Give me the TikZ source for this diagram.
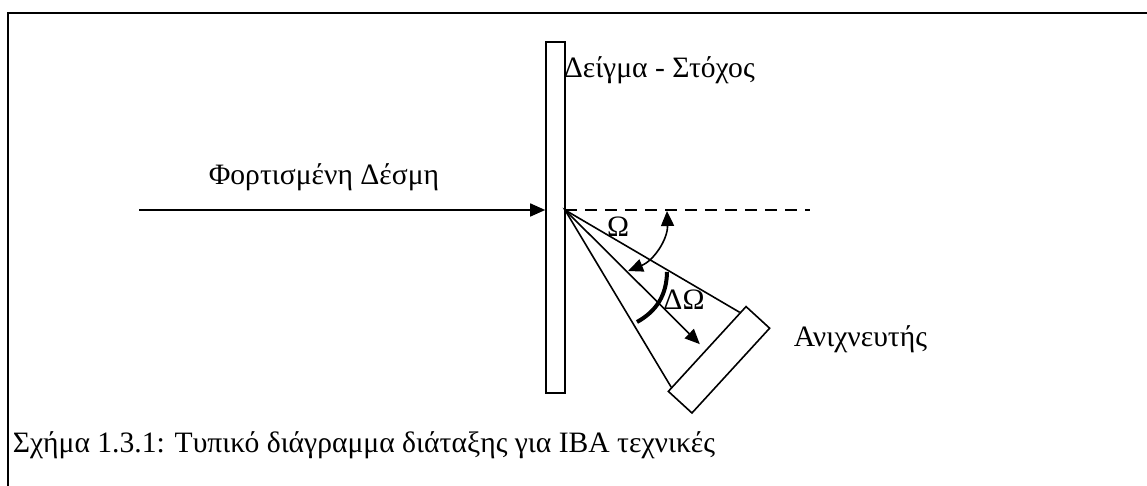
\documentclass[tikz,border=0pt]{standalone}
\usepackage{fontspec}
\setmainfont{Liberation Serif}
\usepackage{xcolor}
\usepackage{tikz}
\usetikzlibrary{positioning, arrows.meta, calc}
\definecolor{inkblack}{HTML}{000000}

\begin{document}
\begin{tikzpicture}[x=0.5pt, y=-0.5pt,
    line width=0.8pt, inkblack,
    txt/.style={font=\fontsize{14.8}{17}\selectfont, inner sep=0pt},
    tip/.style={-{Triangle[length=7.5pt, width=6.5pt]}},
    tiptwo/.style={{Triangle[length=7.5pt, width=6.5pt]}-{Triangle[length=7.5pt, width=6.5pt]}}]
  \useasboundingbox (0,0) rectangle (1147,486);
  % frame
  \draw[line width=1pt] (8,486) -- (8,13) -- (1147,13);
  % target and detector
  \node (sample) [draw, minimum width=9.5pt, minimum height=175.5pt, inner sep=0pt] at (555.5,217.5) {};
  \node (det) [draw, minimum width=57.5pt, minimum height=16pt, inner sep=0pt, rotate=47.5] at (719,359.8) {};
  \coordinate (apex) at (565,210);
  \coordinate (beamstart) at (139,210);
  \coordinate (dashend) at (810,210);
  \coordinate (upcone) at ($(det.north east)!0.08!(det.north west)$);
  \coordinate (lowcone) at ($(det.north west)!0.05!(det.north east)$);
  \coordinate (axisend) at ($(apex)!0.96!($(upcone)!0.5!(lowcone)$)$);
  % beam and cone
  \draw[tip] (beamstart) -- (beamstart -| sample.west);
  \draw[dashed, dash pattern=on 6pt off 4pt] (apex) -- (dashend);
  \draw (upcone) -- (apex) -- (lowcone);
  \draw[tip] (apex) -- (axisend);
  % angles
  \coordinate (omtop) at (667,211);
  \coordinate (ombot) at (628,271);
  \draw[tiptwo] (ombot) to[bend right=35] (omtop);
  \coordinate (dostart) at (667,272);
  \coordinate (doend) at (637,322);
  \draw[line width=2pt] (dostart) to[bend left=30] (doend);
  % labels
  \node (omega) [txt, anchor=base] at (618,237) {Ω};
  \node (domega) [txt, anchor=base] at (684,310) {ΔΩ};
  \node (beamlabel) [txt, anchor=base west] at (208,185) {Φορτισμένη Δέσμη};
  \node (samplelabel) [txt, anchor=base west] at (563,78) {Δείγμα - Στόχος};
  \node (detlabel) [txt, anchor=base west] at (793,347) {Ανιχνευτής};
  \node (caption) [txt, anchor=base west] at (12,452) {Σχήμα 1.3.1: Τυπικό διάγραμμα διάταξης για IBA τεχνικές};
\end{tikzpicture}
\end{document}
